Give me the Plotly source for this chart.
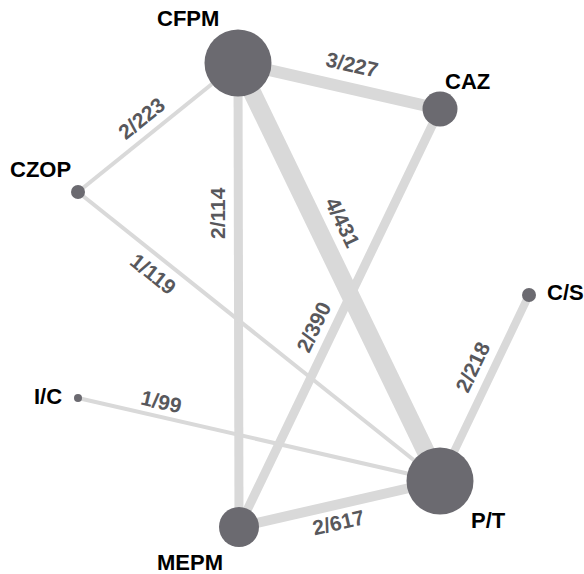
import math
import plotly.graph_objects as go

# Treatments (nodes) of the network
treatments = ["CFPM", "CAZ", "CZOP", "C/S", "I/C", "P/T", "MEPM"]

# Direct comparisons: (treatment A, treatment B, number of studies, number of patients)
comp_a = ["CFPM", "CFPM", "CFPM", "CFPM", "CZOP", "CAZ", "C/S", "I/C", "MEPM"]
comp_b = ["CAZ", "CZOP", "MEPM", "P/T", "P/T", "MEPM", "P/T", "P/T", "P/T"]
n_studies = [3, 2, 2, 4, 1, 2, 2, 1, 2]
n_patients = [227, 223, 114, 431, 119, 390, 218, 99, 617]

# ---- layout (pixel space, y grows downward) ----
node_pos = {
    "CFPM": (238, 63), "CAZ": (440, 109), "CZOP": (78, 192), "C/S": (529, 295),
    "I/C": (78, 398), "P/T": (440, 481), "MEPM": (239, 527),
}
node_diam = {"CFPM": 67, "CAZ": 35, "CZOP": 14, "C/S": 14, "I/C": 8, "P/T": 67, "MEPM": 40}
node_label_pos = {
    "CFPM": (188, 18), "CAZ": (467, 81), "CZOP": (40, 169), "C/S": (565, 292),
    "I/C": (48, 396), "P/T": (488, 520), "MEPM": (190, 562),
}
edge_width = [12, 4, 9, 18, 4, 9, 8, 4, 10]
edge_label_pos = [(352, 64), (141, 118), (217, 213), (343, 222), (153, 273),
                  (313, 327), (472, 367), (161, 401), (338, 522)]

W, H = 584, 574
EDGE_COLOR = "#d9d9d9"
NODE_COLOR = "#6b6a70"
EDGE_TEXT = "#58585c"
FONT = "Liberation Sans, Arial, sans-serif"

fig = go.Figure()

# edges
for a, b, w in zip(comp_a, comp_b, edge_width):
    (x0, y0), (x1, y1) = node_pos[a], node_pos[b]
    fig.add_trace(go.Scatter(
        x=[x0, x1], y=[y0, y1], mode="lines",
        line=dict(color=EDGE_COLOR, width=w),
        hoverinfo="skip", showlegend=False,
    ))

# nodes
fig.add_trace(go.Scatter(
    x=[node_pos[t][0] for t in treatments],
    y=[node_pos[t][1] for t in treatments],
    mode="markers",
    marker=dict(size=[node_diam[t] for t in treatments], color=NODE_COLOR,
                opacity=1, line=dict(width=0)),
    hovertext=treatments, hoverinfo="text", showlegend=False,
))

# node names
for t in treatments:
    lx, ly = node_label_pos[t]
    fig.add_annotation(x=lx, y=ly, text=t, showarrow=False,
                       xanchor="center", yanchor="middle",
                       font=dict(family=FONT, size=22, color="#000000", weight="bold"))

# studies/patients labels aligned with each edge
for a, b, k, n, (lx, ly) in zip(comp_a, comp_b, n_studies, n_patients, edge_label_pos):
    (x0, y0), (x1, y1) = node_pos[a], node_pos[b]
    if x1 < x0:
        x0, y0, x1, y1 = x1, y1, x0, y0
    ang = math.degrees(math.atan2(y1 - y0, x1 - x0))
    if abs(x1 - x0) < 1.5:
        ang = -90
    fig.add_annotation(x=lx, y=ly, text=f"{k}/{n}", showarrow=False,
                       textangle=ang, xanchor="center", yanchor="middle",
                       font=dict(family=FONT, size=21, color=EDGE_TEXT, weight="bold"))

fig.update_layout(
    width=W, height=H,
    margin=dict(l=0, r=0, t=0, b=0),
    paper_bgcolor="white", plot_bgcolor="white",
    xaxis=dict(range=[0, W], visible=False, fixedrange=True),
    yaxis=dict(range=[H, 0], visible=False, fixedrange=True),
)

fig.write_html("out.html")
